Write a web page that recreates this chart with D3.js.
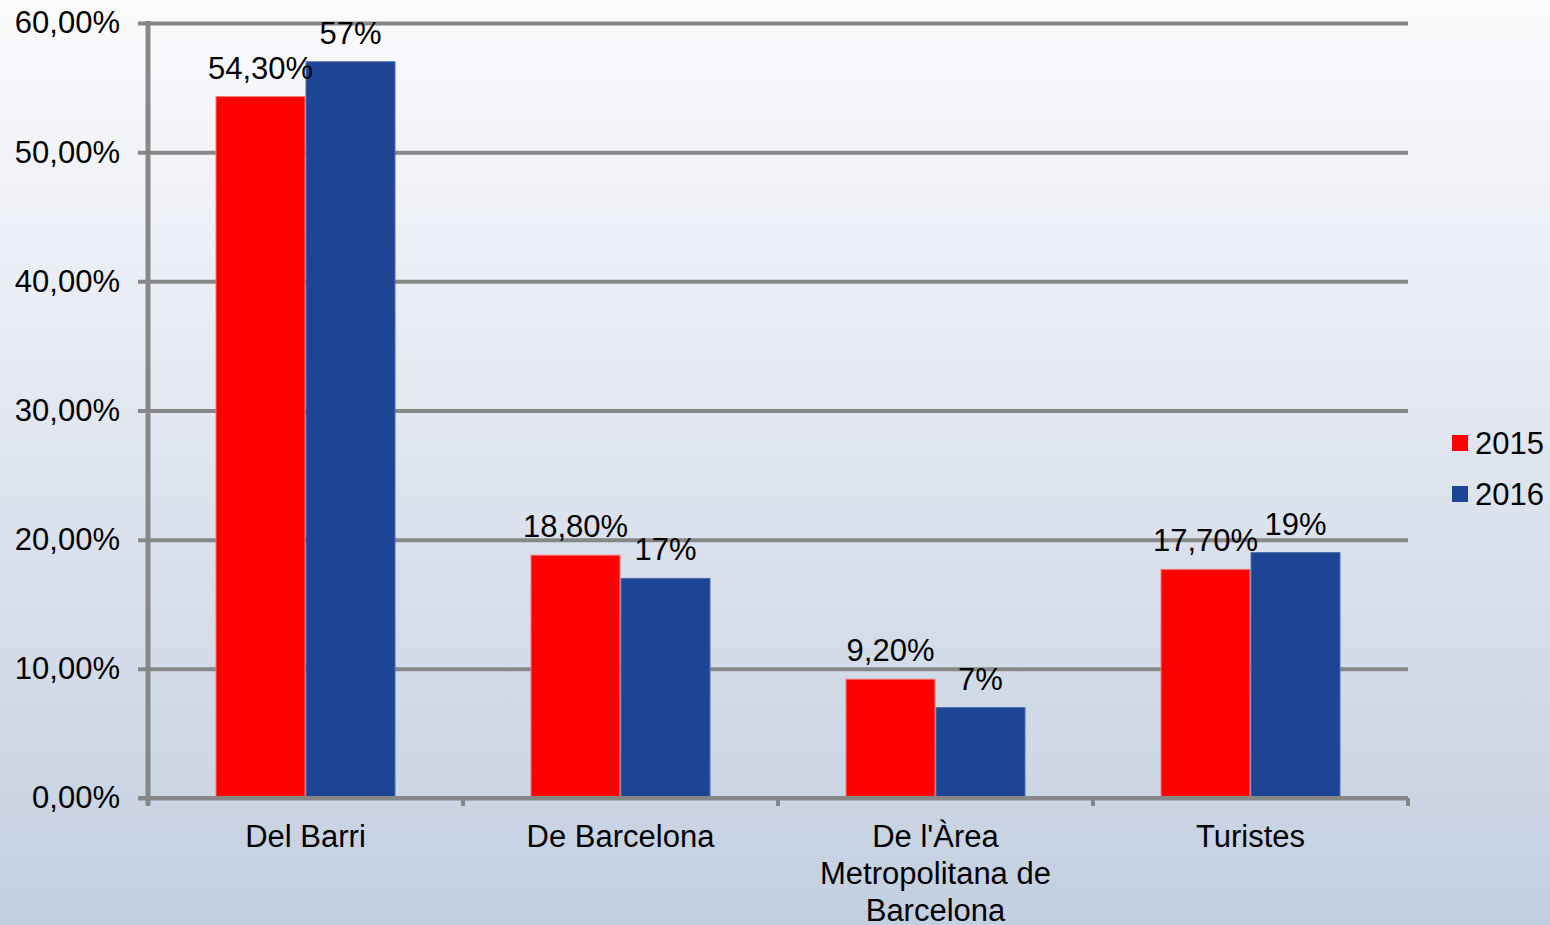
<!DOCTYPE html>
<html>
<head>
<meta charset="utf-8">
<script src="https://cdn.jsdelivr.net/npm/d3@7"></script>
<style>
  html, body { margin: 0; padding: 0; }
  body { width: 1550px; height: 925px; overflow: hidden; font-family: "Liberation Sans", Arial, sans-serif; }
</style>
</head>
<body>
<div id="chart"></div>
<script>
// Chart data
const categories = ['Del Barri', 'De Barcelona', "De l'Àrea Metropolitana de Barcelona", 'Turistes'];
const years = ['2015', '2016'];
const values2015 = [54.3, 18.8, 9.2, 17.7];
const values2016 = [57, 17, 7, 19];
const labels2015 = ['54,30%', '18,80%', '9,20%', '17,70%'];
const labels2016 = ['57%', '17%', '7%', '19%'];
const yTicks = [0, 10, 20, 30, 40, 50, 60];
const yTickLabels = ['0,00%', '10,00%', '20,00%', '30,00%', '40,00%', '50,00%', '60,00%'];

const colors = { '2015': '#ff0000', '2016': '#1e4595' };
const strokes = { '2015': '#f27a7a', '2016': '#4d6fb0' };

const width = 1550;
const height = 925;
const plotLeft = 148;
const plotRight = 1408;
const plotTop = 23;
const plotBottom = 798;
const fontSize = 31;

const svg = d3.select('#chart')
  .append('svg')
  .attr('width', width)
  .attr('height', height);

// Background gradient
const grad = svg.append('defs').append('linearGradient')
  .attr('id', 'bg')
  .attr('x1', 0).attr('y1', 0).attr('x2', 0).attr('y2', 1);
grad.append('stop').attr('offset', '0%').attr('stop-color', '#fbfbfd');
grad.append('stop').attr('offset', '100%').attr('stop-color', '#c3cfe0');
svg.append('rect')
  .attr('width', width)
  .attr('height', height)
  .attr('fill', 'url(#bg)');

// Scales
const x0 = d3.scaleBand()
  .domain(categories)
  .range([plotLeft, plotRight])
  .paddingInner(135 / 315)
  .paddingOuter(135 / 630);

const x1 = d3.scaleBand()
  .domain(years)
  .range([0, x0.bandwidth()])
  .padding(0);

const y = d3.scaleLinear()
  .domain([0, 60])
  .range([plotBottom, plotTop]);

// Gridlines + y axis labels
const yAxis = svg.append('g')
  .attr('transform', `translate(${plotLeft},0)`)
  .call(d3.axisLeft(y)
    .tickValues(yTicks)
    .tickSize(-(plotRight - plotLeft))
    .tickPadding(28)
    .tickFormat((d, i) => yTickLabels[i]));
yAxis.select('.domain').remove();
yAxis.selectAll('.tick line')
  .attr('x1', -10)
  .attr('stroke', '#878787')
  .attr('stroke-width', 4);
yAxis.selectAll('.tick text')
  .attr('fill', '#000')
  .attr('font-size', fontSize + 'px')
  .attr('font-family', '"Liberation Sans", Arial, sans-serif');

// Bars
const rows = categories.map((c, i) => ({
  cat: c,
  vals: [
    { year: '2015', v: values2015[i], label: labels2015[i] },
    { year: '2016', v: values2016[i], label: labels2016[i] }
  ]
}));

const groups = svg.selectAll('.grp')
  .data(rows)
  .enter()
  .append('g')
  .attr('class', 'grp')
  .attr('transform', d => `translate(${x0(d.cat)},0)`);

groups.selectAll('rect')
  .data(d => d.vals)
  .enter()
  .append('rect')
  .attr('x', d => x1(d.year) + 0.5)
  .attr('width', x1.bandwidth() - 1)
  .attr('y', d => y(d.v))
  .attr('height', d => y(0) - y(d.v) - 1)
  .attr('fill', d => colors[d.year])
  .attr('stroke', d => strokes[d.year])
  .attr('stroke-width', 1);

// Value labels
groups.selectAll('.val')
  .data(d => d.vals)
  .enter()
  .append('text')
  .attr('class', 'val')
  .attr('x', d => x1(d.year) + x1.bandwidth() / 2)
  .attr('y', d => y(d.v) - 18)
  .attr('text-anchor', 'middle')
  .attr('font-size', fontSize + 'px')
  .attr('fill', '#000')
  .text(d => d.label);

// Y axis line
svg.append('line')
  .attr('x1', plotLeft).attr('x2', plotLeft)
  .attr('y1', plotTop - 2).attr('y2', plotBottom + 7)
  .attr('stroke', '#878787')
  .attr('stroke-width', 5);

// X axis line and ticks
const xAxisG = svg.append('g');
xAxisG.append('line')
  .attr('x1', plotLeft - 10).attr('x2', plotRight)
  .attr('y1', plotBottom).attr('y2', plotBottom)
  .attr('stroke', '#878787')
  .attr('stroke-width', 4);

const bounds = categories.map(c => x0(c) - x0.step() * x0.paddingInner() / 2)
  .concat([plotRight]);
xAxisG.selectAll('.xt')
  .data(bounds)
  .enter()
  .append('line')
  .attr('x1', d => d).attr('x2', d => d)
  .attr('y1', plotBottom).attr('y2', plotBottom + 8)
  .attr('stroke', '#878787')
  .attr('stroke-width', 4);

// Category labels with wrapping
const catText = svg.selectAll('.cat')
  .data(categories)
  .enter()
  .append('text')
  .attr('class', 'cat')
  .attr('x', d => x0(d) + x0.bandwidth() / 2)
  .attr('y', 847)
  .attr('text-anchor', 'middle')
  .attr('font-size', fontSize + 'px')
  .attr('fill', '#000');

catText.each(function (d) {
  const el = d3.select(this);
  const words = d.split(' ');
  const cx = +el.attr('x');
  let line = [];
  let tspan = el.append('tspan').attr('x', cx).attr('dy', 0);
  words.forEach(w => {
    line.push(w);
    tspan.text(line.join(' '));
    if (tspan.node().getComputedTextLength() > 265 && line.length > 1) {
      line.pop();
      tspan.text(line.join(' '));
      line = [w];
      tspan = el.append('tspan').attr('x', cx).attr('dy', 37).text(w);
    }
  });
});

// Legend
const legend = svg.append('g')
  .attr('transform', 'translate(1452,435)');
const items = legend.selectAll('.leg')
  .data(years)
  .enter()
  .append('g')
  .attr('transform', (d, i) => `translate(0,${i * 51})`);
items.append('rect')
  .attr('width', 16)
  .attr('height', 16)
  .attr('fill', d => colors[d]);
items.append('text')
  .attr('x', 23)
  .attr('y', 19)
  .attr('font-size', fontSize + 'px')
  .attr('fill', '#000')
  .text(d => d);
</script>
</body>
</html>
